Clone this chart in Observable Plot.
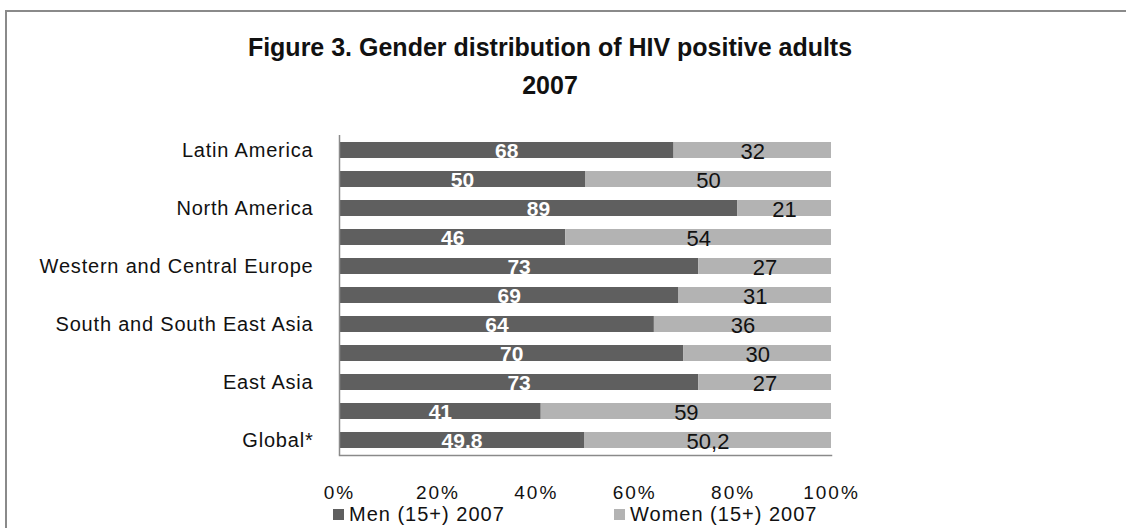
<!DOCTYPE html>
<html>
<head>
<meta charset="utf-8">
<script src="https://cdn.jsdelivr.net/npm/d3@7"></script>
<script src="https://cdn.jsdelivr.net/npm/@observablehq/plot@0.6"></script>
<style>
  html, body { margin: 0; padding: 0; background: #fff; }
  body { width: 1126px; height: 528px; position: relative; overflow: hidden; font-family: "Liberation Sans", Arial, sans-serif; }
  #frame { position: absolute; left: 5px; top: 10px; width: 1200px; height: 600px; border: 2px solid #8a8a8a; box-sizing: border-box; }
  #title { position: absolute; left: 0; width: 1100px; top: 28px; text-align: center; font-size: 25px; font-weight: bold; line-height: 38px; color: #111; }
  #chart { position: absolute; left: 0; top: 0; }
  #legend { position: absolute; top: 503px; left: 333px; font-size: 20px; letter-spacing: 1px; color: #111; }
  .item { position: absolute; white-space: nowrap; display: flex; align-items: center; }
  .sw { width: 11px; height: 11px; margin-right: 5px; display: inline-block; }
  #chart g[aria-label="y-axis tick label"] text { letter-spacing: 0.8px; }
  #chart g[aria-label="x-axis tick label"] text { letter-spacing: 2px; }
</style>
</head>
<body>
<div id="frame"></div>
<div id="title">Figure 3. Gender distribution of HIV positive adults<br>2007</div>
<div id="chart"></div>
<div id="legend"></div>
<script>
const regions = ["Latin America", "", "North America", "", "Western and Central Europe", "", "South and South East Asia", "", "East Asia", "", "Global*"];
const men = [68, 50, 89, 46, 73, 69, 64, 70, 73, 41, 49.8];
const women = [32, 50, 21, 54, 27, 31, 36, 30, 27, 59, 50.2];
const menLabels = ["68", "50", "89", "46", "73", "69", "64", "70", "73", "41", "49.8"];
const womenLabels = ["32", "50", "21", "54", "27", "31", "36", "30", "27", "59", "50,2"];
const seriesNames = ["Men (15+) 2007", "Women (15+) 2007"];
const seriesColors = ["#5f5f5f", "#b3b3b3"];
const xTicks = [0, 0.2, 0.4, 0.6, 0.8, 1];

const rowIdx = regions.map((_, i) => i);
const data = [];
rowIdx.forEach(i => {
  data.push({row: i, sex: seriesNames[0], value: men[i], label: menLabels[i]});
  data.push({row: i, sex: seriesNames[1], value: women[i], label: womenLabels[i]});
});

const stackOpts = (extra) => Plot.stackX({x: "value", y: "row", z: "sex", offset: "normalize", order: null, ...extra});

const chart = Plot.plot({
  width: 1126,
  height: 528,
  marginLeft: 339,
  marginRight: 295,
  marginTop: 135,
  marginBottom: 73,
  style: {fontFamily: "'Liberation Sans', Arial, sans-serif", fontSize: "20px", background: "transparent", color: "#111"},
  x: {domain: [0, 1], axis: null, label: null},
  y: {domain: rowIdx, paddingInner: 0.45, paddingOuter: 0.24, axis: null, label: null},
  color: {domain: seriesNames, range: seriesColors},
  marks: [
    Plot.barX(data, stackOpts({fill: "sex"})),
    Plot.ruleX([0], {stroke: "#8a8a8a", strokeWidth: 1.5}),
    Plot.frame({anchor: "bottom", stroke: "#8a8a8a", strokeWidth: 1.5}),
    Plot.text(data, stackOpts({text: d => d.sex === seriesNames[0] ? d.label : "", fill: "white", fontSize: 21, fontWeight: "bold", dy: 1})),
    Plot.text(data, stackOpts({text: d => d.sex === seriesNames[1] ? d.label : "", fill: "#111", fontSize: 22, dy: 1})),
    Plot.axisY({tickSize: 0, tickPadding: 26, tickFormat: i => regions[i], fontSize: 20, label: null}),
    Plot.axisX({ticks: xTicks, tickFormat: d3.format(".0%"), tickSize: 0, tickPadding: 30, fontSize: 19, label: null})
  ]
});
document.getElementById("chart").appendChild(chart);

const legend = document.getElementById("legend");
const offsets = [0, 281];
seriesNames.forEach((n, i) => {
  const it = document.createElement("div");
  it.className = "item";
  it.style.left = offsets[i] + "px";
  it.innerHTML = `<span class="sw" style="background:${seriesColors[i]}"></span>${n}`;
  legend.appendChild(it);
});
</script>
</body>
</html>
